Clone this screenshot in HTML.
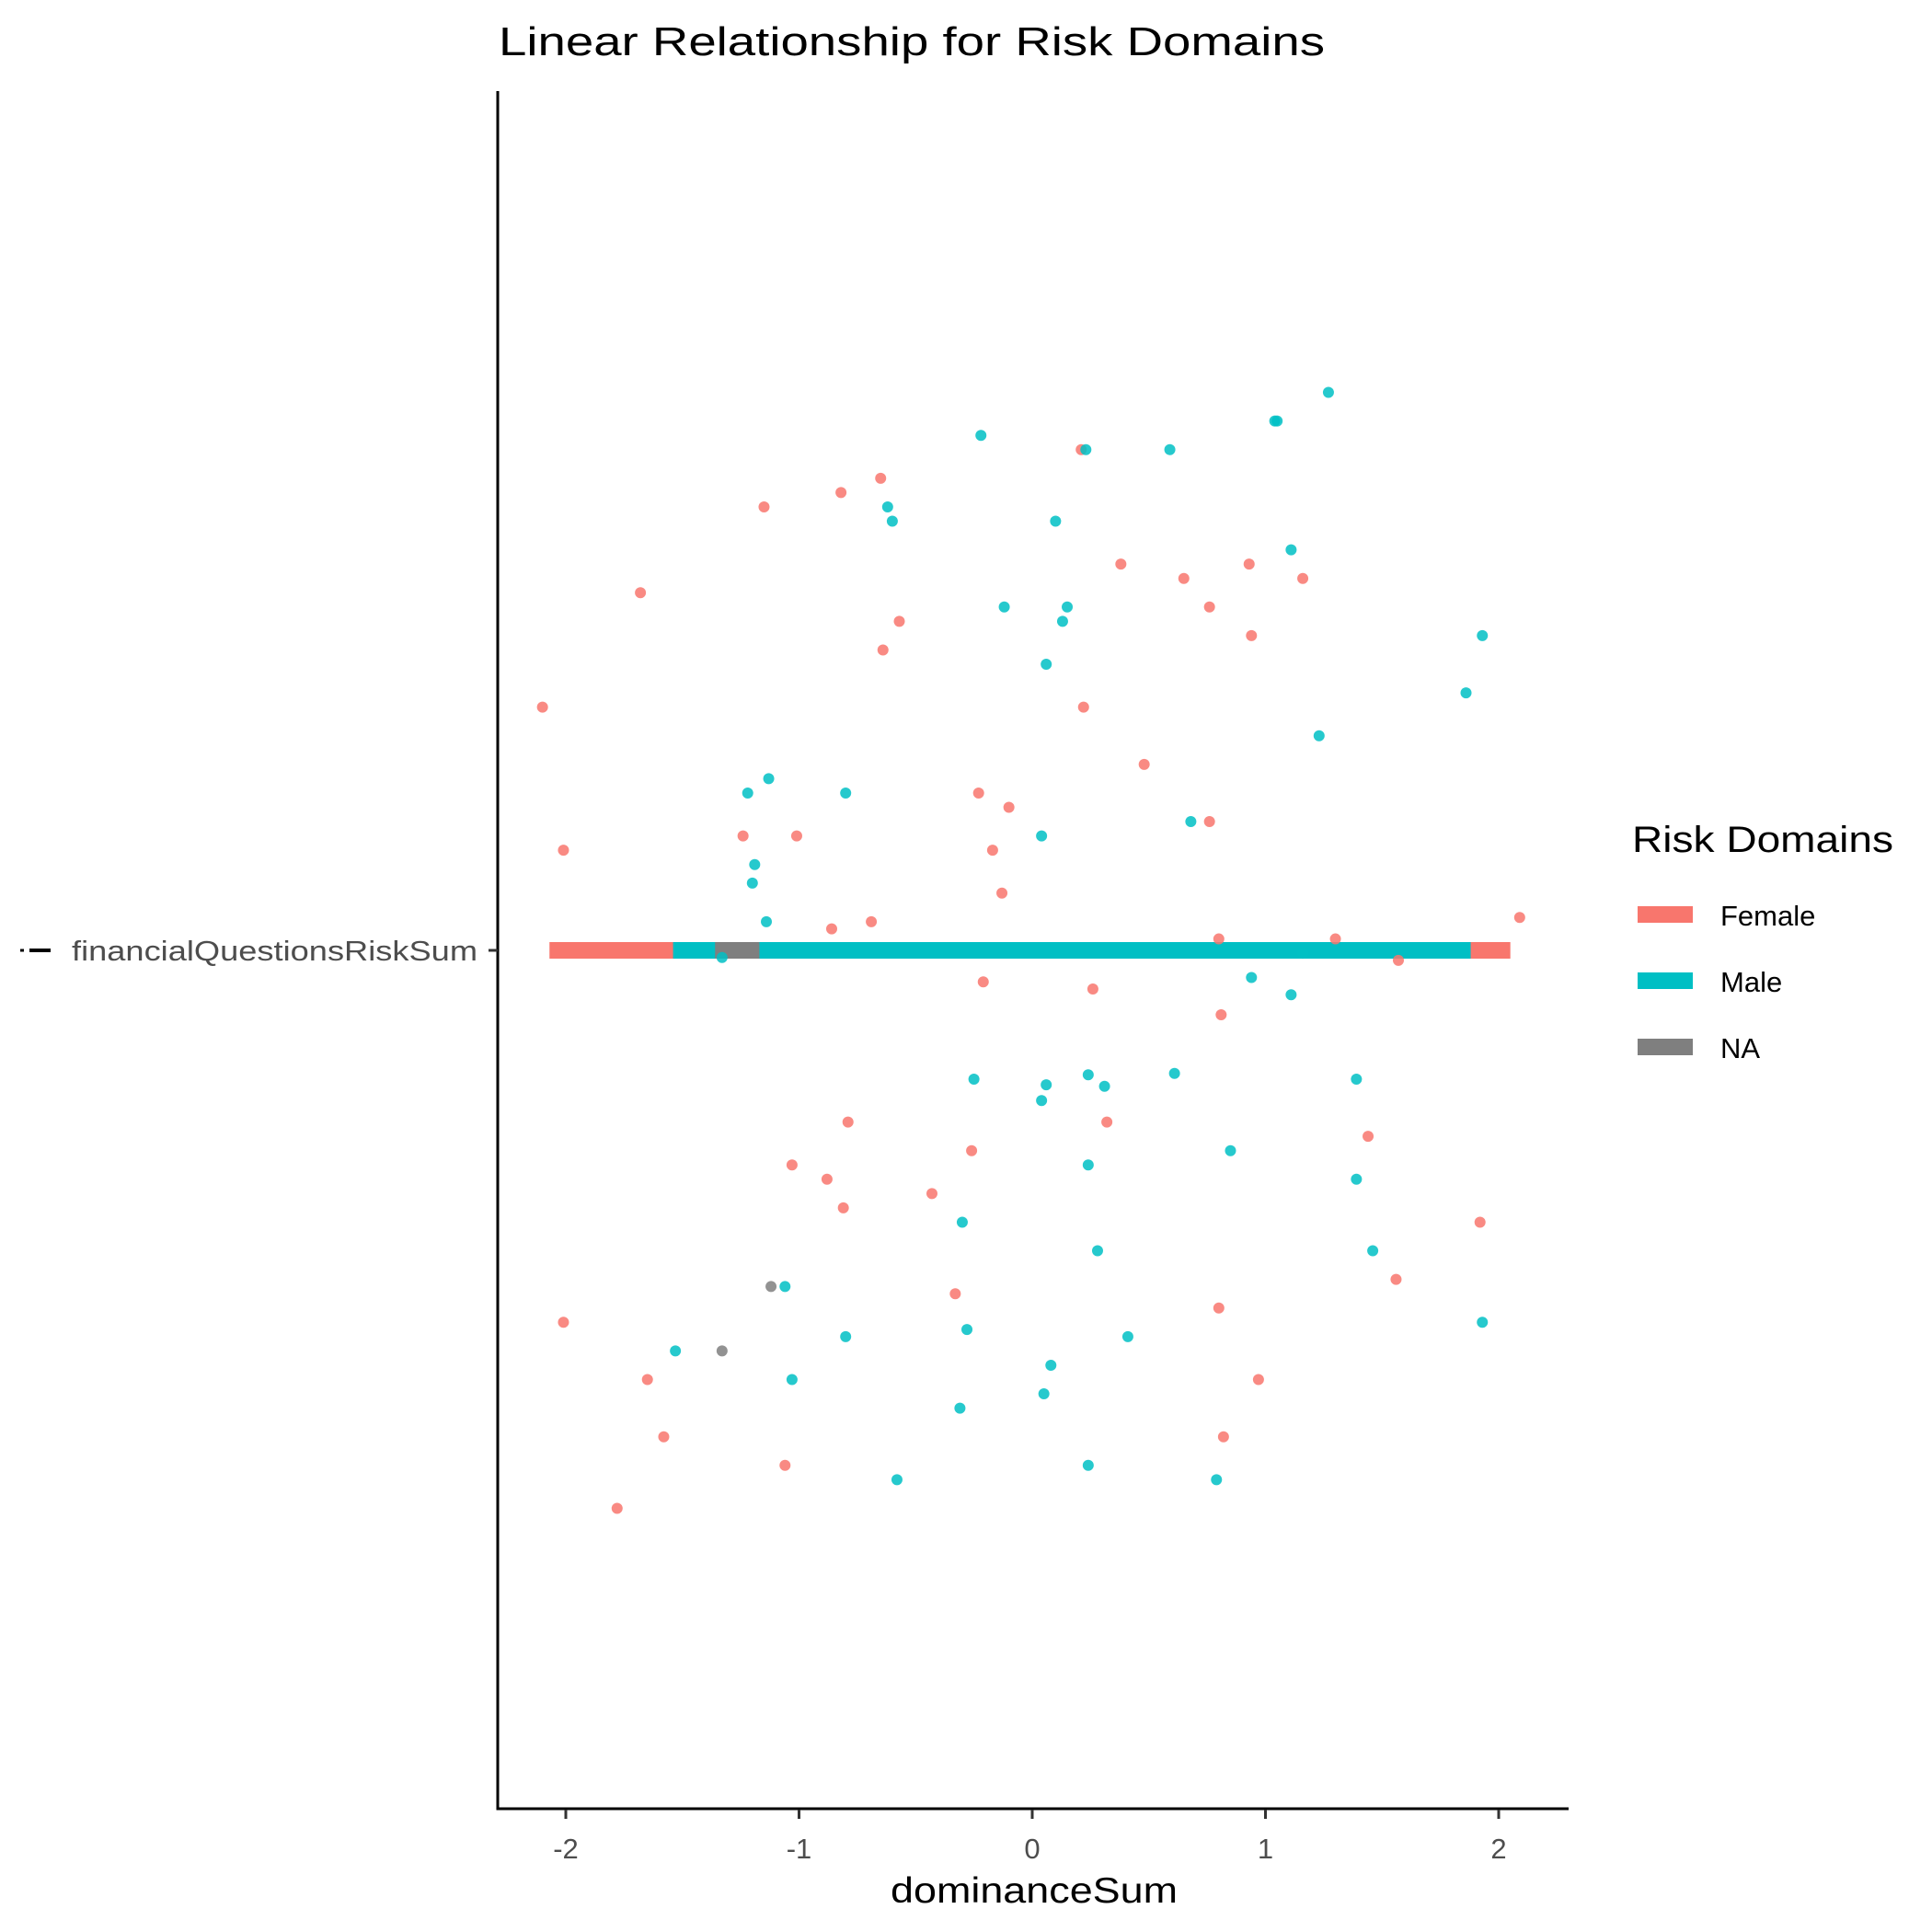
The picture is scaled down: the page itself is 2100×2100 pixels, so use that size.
<!DOCTYPE html>
<html><head><meta charset="utf-8"><style>
html,body{margin:0;padding:0;background:#fff;}
svg{display:block;font-family:"Liberation Sans",Arial,sans-serif;}
</style></head><body>
<svg id="chart" width="2100" height="2100" viewBox="0 0 2100 2100" xmlns="http://www.w3.org/2000/svg">
<text x="542" y="60" font-size="44" textLength="898" lengthAdjust="spacingAndGlyphs" fill="#000">Linear Relationship for Risk Domains</text>
<g id="bars"></g>
<g id="points"></g>
<line x1="541" y1="99" x2="541" y2="1967" stroke="#000" stroke-width="3"/>
<line x1="539.5" y1="1966" x2="1705" y2="1966" stroke="#000" stroke-width="3"/>
<g id="xticks"></g>
<line x1="531" y1="1033" x2="541" y2="1033" stroke="#333" stroke-width="3"/>
<text x="519" y="1044" font-size="31" text-anchor="end" textLength="441" lengthAdjust="spacingAndGlyphs" fill="#4d4d4d">financialQuestionsRiskSum</text>
<line x1="22" y1="1033" x2="26" y2="1033" stroke="#000" stroke-width="3"/>
<line x1="32" y1="1033" x2="55" y2="1033" stroke="#000" stroke-width="4"/>
<text x="1124" y="2068" font-size="39" text-anchor="middle" textLength="312" lengthAdjust="spacingAndGlyphs" fill="#000">dominanceSum</text>
<g>
<text x="1774" y="926" font-size="40" textLength="284" lengthAdjust="spacingAndGlyphs" fill="#000">Risk Domains</text>
<rect x="1780" y="985" width="60" height="18" fill="#F8766D"/>
<text x="1870" y="1006" font-size="31" fill="#000">Female</text>
<rect x="1780" y="1057" width="60" height="18" fill="#00BFC4"/>
<text x="1870" y="1078" font-size="31" fill="#000">Male</text>
<rect x="1780" y="1129" width="60" height="18" fill="#7F7F7F"/>
<text x="1870" y="1150" font-size="31" fill="#000">NA</text>
</g>
</svg>
<script>
const xTicks = [-2, -1, 0, 1, 2];
const xTickLabels = ["-2", "-1", "0", "1", "2"];
const barGroups = ["Female", "Male", "NA"];
const barMin = [-2.07, -1.54, -1.36];
const barMax = [2.05, 1.88, -1.17];
const femaleX = [-0.65,-0.82,-1.15,-1.68,-0.57,-0.64,-2.10,-2.01,-1.24,-1.01,-0.23,-0.10,-0.17,-0.13,-0.86,-0.69,0.21,0.38,0.65,0.93,1.16,0.76,0.94,0.22,0.48,0.76,2.09,0.80,1.30,1.57,-0.21,0.26,0.81,-0.79,-1.03,-0.88,-0.81,-0.43,-0.26,0.32,1.44,1.92,-0.33,0.80,1.56,-2.01,-1.65,-1.58,-1.06,-1.78,0.82,0.97];
const femaleJ = [0.33,0.32,0.31,0.25,0.23,0.21,0.17,0.07,0.08,0.08,0.11,0.10,0.07,0.04,0.015,0.02,0.35,0.27,0.26,0.27,0.26,0.24,0.22,0.17,0.13,0.09,0.023,0.008,0.008,-0.007,-0.022,-0.027,-0.045,-0.12,-0.15,-0.16,-0.18,-0.17,-0.14,-0.12,-0.13,-0.19,-0.24,-0.25,-0.23,-0.26,-0.30,-0.34,-0.36,-0.39,-0.34,-0.30];
const maleX = [1.27,1.04,1.05,-0.22,0.23,0.59,-0.62,-0.60,0.10,1.11,-0.12,0.15,0.13,0.06,1.93,1.86,1.23,-1.13,-1.22,-0.80,0.68,0.04,-1.19,-1.20,-1.14,-1.33,1.16,0.94,1.11,-0.25,0.06,0.04,0.24,0.31,0.61,1.39,0.85,0.24,1.39,-0.30,0.28,1.46,-1.06,-0.80,-0.28,0.41,-1.53,-1.03,0.08,-0.31,0.05,1.93,-0.58,0.24,0.79];
const maleJ = [0.39,0.37,0.37,0.36,0.35,0.35,0.31,0.30,0.30,0.28,0.24,0.24,0.23,0.20,0.22,0.18,0.15,0.12,0.11,0.11,0.09,0.08,0.06,0.047,0.02,-0.005,-0.002,-0.019,-0.031,-0.09,-0.094,-0.105,-0.087,-0.095,-0.086,-0.09,-0.14,-0.15,-0.16,-0.19,-0.21,-0.21,-0.235,-0.27,-0.265,-0.27,-0.28,-0.30,-0.29,-0.32,-0.31,-0.26,-0.37,-0.36,-0.37];
const naX = [-1.12, -1.33];
const naJ = [-0.235, -0.28];

const colors = {Female:"#F8766D", Male:"#00BFC4", NA:"#7F7F7F"};
const X0 = 1122, XU = 253.5, YC = 1033, YU = 1555;
function sx(v){ return X0 + v * XU; }
function sy(j){ return YC - j * YU; }
const NS = "http://www.w3.org/2000/svg";

const xt = document.getElementById('xticks');
xTicks.forEach((t, i) => {
  const l = document.createElementNS(NS, 'line');
  l.setAttribute('x1', sx(t)); l.setAttribute('x2', sx(t));
  l.setAttribute('y1', 1967); l.setAttribute('y2', 1977);
  l.setAttribute('stroke', '#333'); l.setAttribute('stroke-width', 3);
  
  
  xt.appendChild(l);
  const tx = document.createElementNS(NS, 'text');
  tx.setAttribute('x', sx(t)); tx.setAttribute('y', 2020);
  tx.setAttribute('font-size', 31); tx.setAttribute('text-anchor', 'middle');
  tx.setAttribute('fill', '#4d4d4d');
  tx.textContent = xTickLabels[i];
  
  
  xt.appendChild(tx);
});

const bg = document.getElementById('bars');
barGroups.forEach((g, i) => {
  const r = document.createElementNS(NS, 'rect');
  r.setAttribute('x', sx(barMin[i]));
  r.setAttribute('width', sx(barMax[i]) - sx(barMin[i]));
  r.setAttribute('y', YC - 9); r.setAttribute('height', 18);
  r.setAttribute('fill', colors[g]);
  
  
  bg.appendChild(r);
});

const pg = document.getElementById('points');
function drawPts(xs, js, g) {
  xs.forEach((v, i) => {
    const c = document.createElementNS(NS, 'circle');
    c.setAttribute('cx', sx(v)); c.setAttribute('cy', sy(js[i]));
    c.setAttribute('r', 6);
    c.setAttribute('fill', colors[g]); c.setAttribute('fill-opacity', 0.85);
    
    
    pg.appendChild(c);
  });
}
drawPts(femaleX, femaleJ, 'Female');
drawPts(maleX, maleJ, 'Male');
drawPts(naX, naJ, 'NA');
</script>
</body></html>
